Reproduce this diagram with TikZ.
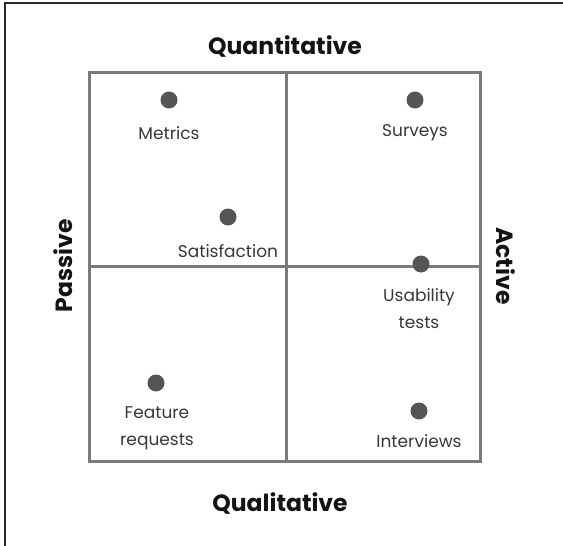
\documentclass[tikz,border=0pt]{standalone}
\usepackage{fontspec}
\setmainfont{Poppins}
\begin{document}
\begin{tikzpicture}[x=1pt,y=-1pt,
  grid/.style={line width=3pt, color={rgb,255:red,122;green,122;blue,122}},
  dot/.style={circle, fill={rgb,255:red,85;green,85;blue,85}, inner sep=0pt, minimum size=17pt},
  lbl/.style={font=\fontsize{17}{27}\selectfont, text={rgb,255:red,55;green,55;blue,55}, align=center, inner sep=0pt},
  axis/.style={font=\fontsize{23.5}{26}\selectfont\bfseries, text={rgb,255:red,20;green,20;blue,20}, inner sep=0pt}]
\useasboundingbox (0,0) rectangle (563,546);
\draw[line width=1.5pt, color={rgb,255:red,40;green,40;blue,40}] (5,600) -- (5,3) -- (600,3);
\draw[grid] (89,72) rectangle (480,461);
\draw[grid] (286,72) -- (286,461);
\draw[grid] (89,266) -- (480,266);
\node[axis] (quant) at (285,46) {Quantitative};
\node[axis] (qual) at (280,503) {Qualitative};
\node[axis, rotate=90] (pass) at (63,266) {Passive};
\node[axis, rotate=-90] (act) at (506,266) {Active};
\node[dot] (d1) at (169,100) {};
\node[lbl] (l1) at (169,133) {Metrics};
\node[dot] (d2) at (415,100) {};
\node[lbl] (l2) at (415,133) {Surveys};
\node[dot] (d3) at (228,217) {};
\node[lbl] (l3) at (228,251) {Satisfaction};
\node[dot] (d4) at (421,264) {};
\node[lbl] (l4) at (419,309) {Usability\\tests};
\node[dot] (d5) at (156,383) {};
\node[lbl] (l5) at (157,428) {Feature\\requests};
\node[dot] (d6) at (419,411) {};
\node[lbl] (l6) at (419,441) {Interviews};
\end{tikzpicture}
\end{document}
